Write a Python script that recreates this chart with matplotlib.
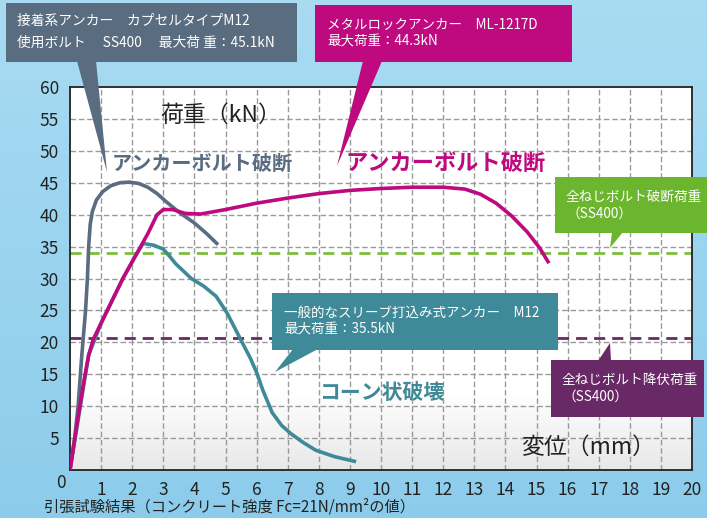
import numpy as np
import matplotlib.pyplot as plt
from matplotlib.patches import Polygon, Rectangle

plt.rcParams['font.family'] = ['Noto Sans CJK JP', 'DejaVu Sans']

# --- data ---
# adhesive capsule anchor M12 (max 45.1kN)
adh_x = [0, 0.15, 0.26, 0.38, 0.5, 0.56, 0.6, 0.65, 0.72, 0.85, 1.05, 1.3, 1.6, 1.9,
         2.2, 2.5, 2.8, 3.1, 3.5, 4.0, 4.4, 4.76]
adh_y = [0, 5, 10, 18, 25, 30, 35, 38.5, 40.5, 42.3, 43.6, 44.5, 45.0, 45.1,
         44.9, 44.3, 43.3, 42.0, 40.4, 38.7, 37.0, 35.3]

# metal lock anchor ML-1217D (max 44.3kN)
mla_x = [0, 0.25, 0.45, 0.6, 0.75, 1.0, 1.3, 1.7, 2.1, 2.5, 2.8, 3.0, 3.3, 3.7, 4.2,
         5.0, 6.0, 7.0, 8.0, 9.0, 10.0, 11.0, 12.0, 12.7, 13.2, 13.7, 14.2, 14.7,
         15.1, 15.4]
mla_y = [0, 8, 14, 18, 20.5, 23, 26, 30, 33.5, 37, 40, 40.8, 40.8, 40.2, 40.1,
         40.8, 41.8, 42.6, 43.3, 43.8, 44.1, 44.3, 44.3, 44.0, 43.2, 41.8, 39.8, 37.3,
         34.8, 32.4]

# sleeve drive-in anchor M12 (max 35.5kN)
slv_x = [0, 0.6, 1.0, 1.7, 2.1, 2.35, 2.7, 3.0, 3.2, 3.4, 3.9, 4.3, 4.7, 5.05, 5.45,
         5.8, 6.0, 6.2, 6.5, 6.8, 7.1, 7.5, 7.9, 8.5, 9.2]
slv_y = [0, 18, 23, 30, 33.5, 35.5, 35.2, 34.6, 33.5, 32.3, 30.0, 28.8, 27.2, 24.6,
         20.8, 17.5, 15.3, 12.5, 9.0, 7.0, 5.7, 4.3, 3.1, 2.1, 1.3]

break_load = 34.0   # full-thread bolt break load (SS400)
yield_load = 20.7   # full-thread bolt yield load (SS400)

x_ticks = list(range(1, 21))
y_ticks = list(range(5, 61, 5))

c_gray = '#5a6c80'
c_mag = '#be0a7e'
c_teal = '#3f8a98'
c_green = '#6cb52f'
c_purple = '#692866'

fig = plt.figure(figsize=(7.07, 5.18), dpi=100)

# background
bg = fig.add_axes([0, 0, 1, 1], zorder=0)
grad = np.linspace(0, 1, 256).reshape(-1, 1)
g = np.dstack([0.66 - 0.11 * grad, 0.86 - 0.06 * grad, 0.95 - 0.03 * grad])
bg.imshow(g, aspect='auto', extent=[0, 1, 0, 1], origin='upper')
bg.axis('off')

ax = fig.add_axes([70 / 707, 1 - 470 / 518, 622 / 707, 383 / 518], zorder=2)
yy = np.linspace(60, 0, 200)
shade = np.where(yy < 12, 1 - 0.09 * (12 - yy) / 12, 1.0).reshape(-1, 1)
ax.imshow(np.dstack([shade, shade, shade]), aspect='auto', extent=[0, 20, 0, 60],
          origin='upper', zorder=0)
ax.set_xlim(0, 20)
ax.set_ylim(0, 60)

for xv in x_ticks[:-1]:
    ax.axvline(xv, color='#9a9a9a', lw=1, ls=(0, (4, 2)), zorder=1)
for yv in y_ticks[:-1]:
    ax.axhline(yv, color='#9a9a9a', lw=1, ls=(0, (4, 2)), zorder=1)

ax.axhline(break_load, color='#7cbd3c', lw=2, ls=(0, (4, 2.5)), zorder=2)
ax.axhline(yield_load, color=c_purple, lw=2, ls=(0, (4, 2.5)), zorder=2)

ax.plot(slv_x, slv_y, color=c_teal, lw=2.6, zorder=3, solid_capstyle='butt')
ax.plot(adh_x, adh_y, color=c_gray, lw=2.6, zorder=4, solid_capstyle='butt')
ax.plot(mla_x, mla_y, color=c_mag, lw=2.6, zorder=5, solid_capstyle='butt')

ax.set_xticks(x_ticks)
ax.set_yticks(y_ticks)
ax.tick_params(length=0, labelsize=12.5, labelcolor='#222222', pad=8)
for s in ax.spines.values():
    s.set_color('#222222')
    s.set_linewidth(1.3)
ax.text(-0.3, -2.0, '0', fontsize=12.5, color='#222222', ha='center', va='center')

ax.text(2.9, 55.5, '荷重（kN）', fontsize=16.5, color='#222222', ha='left', va='center')
ax.text(14.5, 3.5, '変位（mm）', fontsize=16.5, color='#222222', ha='left', va='center')
ax.text(1.35, 48.0, 'アンカーボルト破断', fontsize=14.5, fontweight='bold', color=c_gray,
        ha='left', va='center')
ax.text(8.85, 48.0, 'アンカーボルト破断', fontsize=16, fontweight='bold', color=c_mag,
        ha='left', va='center')
ax.text(8.0, 12.2, 'コーン状破壊', fontsize=15, fontweight='bold', color=c_teal,
        ha='left', va='center')

# callouts (figure pixel coordinates)
ov = fig.add_axes([0, 0, 1, 1], zorder=6)
ov.set_xlim(0, 707)
ov.set_ylim(518, 0)
ov.axis('off')
ov.patch.set_alpha(0)


def callout(rect, tri, color, lines, tx, ty, size, gap):
    x0, y0, x1, y1 = rect
    ov.add_patch(Rectangle((x0, y0), x1 - x0, y1 - y0, color=color, lw=0))
    ov.add_patch(Polygon(tri, closed=True, color=color, lw=0))
    for i, t in enumerate(lines):
        ov.text(tx, ty + i * gap, t, color='white', fontsize=size, ha='left', va='center')


callout((6, 3, 297, 62), [(77, 61), (96, 61), (107, 172)], c_gray,
        ['接着系アンカー　カプセルタイプM12', '使用ボルト　 SS400　 最大荷 重：45.1kN'],
        17, 21, 9.9, 22)
callout((315, 5, 572, 62), [(363, 61), (382, 61), (337, 166)], c_mag,
        ['メタルロックアンカー　ML-1217D', '最大荷重：44.3kN'],
        327, 25, 9.7, 17)
callout((555, 177, 707, 233), [(612, 232), (623, 232), (610, 248)], c_green,
        ['全ねじボルト破断荷重', '（SS400）'],
        566, 197, 9.8, 17)
callout((551, 360, 704, 417), [(598, 361), (611, 361), (610, 343)], c_purple,
        ['全ねじボルト降伏荷重', '（SS400）'],
        562, 380, 9.8, 17)
callout((272, 293, 558, 350), [(293, 349), (318, 349), (275, 372)], c_teal,
        ['一般的なスリーブ打込み式アンカー　M12', '最大荷重：35.5kN'],
        284, 313, 9.7, 17)

ov.text(44, 507, '引張試験結果（コンクリート強度 Fc=21N/mm²の値）', fontsize=11,
        color='#222222', ha='left', va='center')

fig.savefig('out.png', dpi=100)
